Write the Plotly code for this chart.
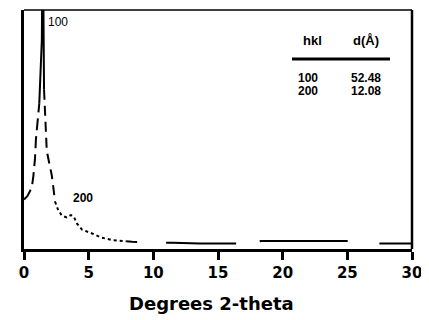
import plotly.graph_objects as go

# ---- data ----
two_theta = [0.0, 0.26, 0.6, 0.72, 0.85, 0.92, 1.18, 1.38, 1.45, 1.50, 1.55, 1.64, 1.76,
             1.96, 2.14, 2.27, 2.40, 2.63, 2.92, 3.30, 3.62, 3.85, 4.10, 4.49, 5.26,
             5.96, 6.88, 7.90, 8.35, 11.5, 13.6, 16.5, 17.8, 18.3, 21.3, 25.1, 25.8,
             27.6, 30.0]
intensity = [20.7, 22.1, 25.7, 30.3, 37.8, 45.7, 60.8, 87.5, 140.0, 83.0, 66.6, 53.7, 41.1,
             35.7, 31.1, 25.7, 19.8, 16.5, 14.0, 13.2, 14.2, 13.6, 10.6, 8.1, 6.5,
             4.8, 3.7, 3.2, 3.0, 2.6, 2.3, 2.3, 2.3, 3.3, 3.3, 3.3, 2.3,
             2.3, 2.3]

x_ticks = [0, 5, 10, 15, 20, 25, 30]
x_tick_labels = ["0", "5", "10", "15", "20", "25", "30"]

peak_labels = ["100", "200"]
peak_label_x = [2.59, 4.56]
peak_label_y = [94.8, 21.5]

table_header = ["hkl", "d(Å)"]
table_hkl = ["100", "200"]
table_d = ["52.48", "12.08"]

x_title = "Degrees 2-theta"

# ---- figure ----
# the page body has an 8px margin, so the figure starts at (8, 8) in the window
OFF = 8
W, H = 429 - OFF, 320 - OFF
PL, PR, PT, PB = 24, 412, 10, 249.5   # plot-area edges in window pixels
L, R, T, B = PL - OFF, 429 - PR, PT - OFF, 320 - PB
pw, ph = PR - PL, PB - PT

def px(xpix):
    return (xpix - PL) / pw

def py(ypix):
    return (PB - ypix) / ph

fig = go.Figure()

# segments of the curve drawn with the reference's varying dash styles (index ranges)
segments = [
    (0, 7, "12px,6px"),
    (6, 11, "solid"),
    (10, 17, "10px,6px"),
    (16, 28, "3px,3px"),
    (27, len(two_theta), "11px,29px,70px,24px,88px,32px,40px"),
]
for a, b, dash in segments:
    fig.add_trace(go.Scatter(
        x=two_theta[a:b], y=intensity[a:b], mode="lines",
        line=dict(color="black", width=2, dash=dash),
        hoverinfo="skip", showlegend=False))

font_fam = "Liberation Sans, Arial, sans-serif"
bold_fam = "DejaVu Sans, Liberation Sans, sans-serif"

def note(x, y, text, font, xref="paper", yref="paper"):
    fig.add_annotation(xref=xref, yref=yref, x=x, y=y, text=text, showarrow=False,
                       xanchor="center", yanchor="middle", font=font, borderpad=0)

# peak labels
note(peak_label_x[0], peak_label_y[0], peak_labels[0],
     dict(family=font_fam, size=12, color="black"), "x", "y")
note(peak_label_x[1], peak_label_y[1], peak_labels[1],
     dict(family=font_fam, size=12, color="black", weight="bold"), "x", "y")

# table in the upper right
tfont = dict(family=font_fam, size=12, color="black", weight="bold")
hfont = dict(family=font_fam, size=13, color="black", weight="bold")
note(px(312), py(41), table_header[0], hfont)
note(px(366), py(41), table_header[1], hfont)
for i in range(len(table_hkl)):
    yy = py(78 + 13 * i)
    note(px(307.5), yy, table_hkl[i], tfont)
    note(px(366), yy, table_d[i], tfont)
fig.add_shape(type="line", xref="paper", yref="paper", x0=px(292), x1=px(390),
              y0=py(59), y1=py(59), line=dict(color="black", width=3))

# frame: top and right borders
fig.add_shape(type="line", xref="paper", yref="paper", x0=0, x1=1, y0=1, y1=1,
              line=dict(color="black", width=1.5))
fig.add_shape(type="line", xref="paper", yref="paper", x0=1, x1=1, y0=0, y1=1,
              line=dict(color="black", width=2.5))

# x-axis title
note(px(211), py(304), x_title, dict(family=bold_fam, size=18, color="black", weight="bold"))

fig.update_layout(
    width=W, height=H,
    margin=dict(l=L, r=R, t=T, b=B, pad=0),
    paper_bgcolor="white", plot_bgcolor="white",
    showlegend=False,
    xaxis=dict(range=[0, 30], tickvals=x_ticks, ticktext=x_tick_labels,
               showline=True, linecolor="black", linewidth=2.5,
               ticks="outside", ticklen=8, tickwidth=3, tickcolor="black",
               showgrid=False, zeroline=False,
               tickfont=dict(family=bold_fam, size=15, color="black", weight="bold")),
    yaxis=dict(range=[0, 100], showticklabels=False, ticks="",
               showline=True, linecolor="black", linewidth=3,
               showgrid=False, zeroline=False),
)

fig.write_html("out.html")
